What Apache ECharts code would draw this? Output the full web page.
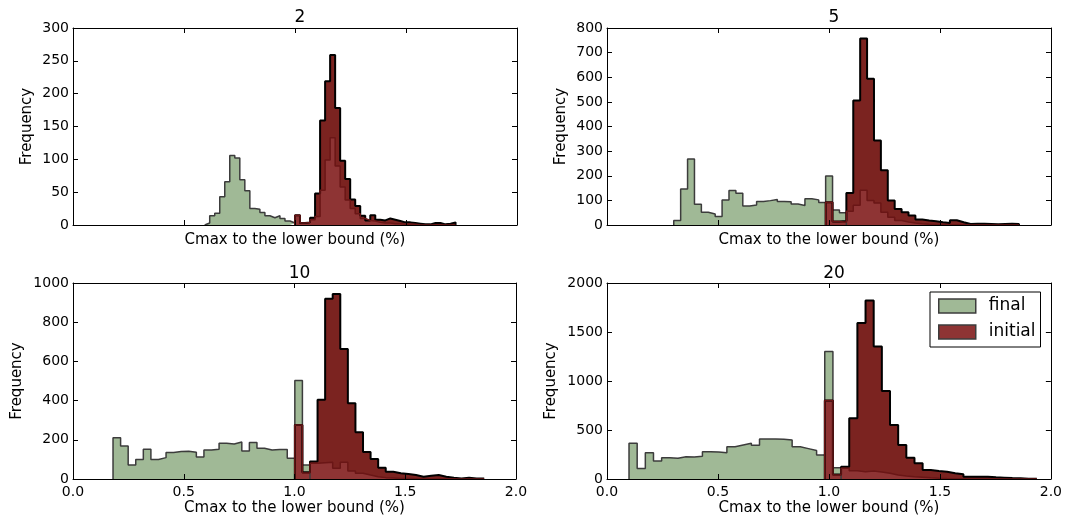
<!DOCTYPE html>
<html>
<head>
    <meta charset="UTF-8">
    <title>Cmax to the lower bound</title>
    <script src="https://cdn.jsdelivr.net/npm/echarts@6/dist/echarts.min.js"></script>
    <style>
        body { margin: 0; background: #fff; }
        #main { width: 1065px; height: 521px; }
    </style>
</head>
<body>
<div id="main"></div>
<script>
    // panel titles and y scales
    var panelTitles = ['2', '5', '10', '20'];
    var yMax = [300, 800, 1000, 2000];
    var yStep = [50, 100, 200, 500];

    // histogram bins (width + first left edge)
    var binWidth = [0.0226, 0.0311, 0.0342, 0.03675];
    var finalStart = [0.5932, 0.3007, 0.1807, 0.0992];
    var initialStart = [1.0, 0.9849, 1.0015, 0.9812];

    // counts per bin
    var final2 = [3, 14, 18, 43, 66, 106, 102, 69, 52, 25, 24, 19, 14, 11, 14, 10, 6, 3];
    var all2 = [15, 3, 4, 11, 48, 159, 219, 259, 178, 98, 70, 39, 29, 14, 7, 15, 8, 7, 10, 8, 6, 4, 4, 3, 2, 1, 1, 3, 3, 1, 2, 4];
    var initial2 = [15, 3, 4, 8, 13, 53, 99, 133, 90, 58, 38, 25, 17, 10, 7, 6, 4, 3, 3, 2, 2, 1, 1, 1, 0, 0, 0, 0, 0, 0, 0, 0];

    var final5 = [18, 146, 268, 84, 52, 45, 35, 102, 140, 129, 77, 81, 95, 99, 104, 95, 94, 85, 79, 107, 102, 91, 199, 61, 50];
    var all5 = [92, 14, 16, 130, 506, 757, 594, 343, 222, 100, 65, 52, 39, 22, 18, 15, 11, 8, 19, 11, 4, 5, 5, 4, 3, 4, 5, 4];
    var initial5 = [92, 14, 11, 56, 80, 141, 100, 89, 52, 31, 18, 12, 8, 5, 3, 2, 2, 1, 1, 1, 0, 0, 0, 0, 0, 0, 0, 0];

    var final10 = [211, 168, 72, 100, 152, 100, 109, 135, 140, 141, 136, 112, 148, 152, 182, 179, 189, 143, 186, 157, 148, 150, 150, 106, 503, 72];
    var all10 = [276, 34, 89, 404, 920, 944, 663, 387, 238, 138, 102, 58, 37, 29, 26, 20, 12, 17, 20, 12, 7, 3, 7, 3, 3];
    var initial10 = [276, 30, 80, 83, 85, 55, 85, 41, 29, 20, 12, 7, 5, 3, 2, 1, 1, 0, 0, 0, 0, 0, 0, 0, 0];

    var final20 = [365, 106, 269, 184, 218, 211, 228, 225, 232, 279, 276, 269, 330, 348, 365, 344, 409, 409, 405, 399, 330, 310, 290, 245, 1302, 116];
    var all20 = [800, 47, 126, 620, 1591, 1822, 1352, 899, 552, 347, 218, 160, 92, 82, 75, 58, 48, 24, 24, 24, 17, 14, 10, 7, 3, 3];
    var initial20 = [800, 40, 109, 85, 75, 82, 72, 58, 41, 31, 24, 18, 12, 8, 5, 3, 2, 1, 1, 0, 0, 0, 0, 0, 0, 0];

    var finals = [final2, final5, final10, final20];
    var alls = [all2, all5, all10, all20];
    var initials = [initial2, initial5, initial10, initial20];

    var GREEN = '#a0b996', DARK = '#7b2320', LIGHT = '#8e3434';
    var FONT = 'DejaVu Sans';

    // histogram outline as step points: [edge, count] ... [lastEdge, 0]
    function steps(start, width, counts) {
        var pts = [[start, 0]];
        counts.forEach(function (c, i) { pts.push([start + i * width, c]); });
        pts.push([start + counts.length * width, 0]);
        return pts;
    }

    var grids = [
        {left: 73, top: 28, width: 444, height: 197},
        {left: 607, top: 28, width: 444, height: 197},
        {left: 73, top: 283, width: 443, height: 196},
        {left: 607, top: 283, width: 444, height: 196}
    ];

    var xAxes = [], yAxes = [], series = [], titles = [];
    var tick = {show: true, inside: true, length: 5, lineStyle: {color: '#000'}};
    var line = {show: true, onZero: false, lineStyle: {color: '#000', width: 1}};

    panelTitles.forEach(function (t, i) {
        var bottomRow = i >= 2;
        xAxes.push({
            type: 'value', gridIndex: i, position: 'bottom', min: 0, max: 2, interval: 0.5, z: 10,
            axisLine: line, axisTick: tick, splitLine: {show: false},
            axisLabel: {show: bottomRow, color: '#000', fontSize: 14, fontFamily: FONT, margin: 6,
                formatter: function (v) { return v.toFixed(1); }},
            name: 'Cmax to the lower bound (%)', nameLocation: 'middle',
            nameGap: bottomRow ? 22 : 8,
            nameTextStyle: {color: '#000', fontSize: 15, fontFamily: FONT, verticalAlign: 'top'}
        });
        xAxes.push({
            type: 'value', gridIndex: i, position: 'top', min: 0, max: 2, interval: 0.5, z: 10,
            axisLine: line, axisTick: tick, axisLabel: {show: false}, splitLine: {show: false}
        });
        yAxes.push({
            type: 'value', gridIndex: i, position: 'left', min: 0, max: yMax[i], interval: yStep[i], z: 10,
            axisLine: line, axisTick: tick, splitLine: {show: false},
            axisLabel: {color: '#000', fontSize: 14, fontFamily: FONT, margin: 4,
                formatter: function (v) { return String(v); }},
            name: 'Frequency', nameLocation: 'middle', nameRotate: 90,
            nameGap: bottomRow ? 48 : 38,
            nameTextStyle: {color: '#000', fontSize: 15, fontFamily: FONT}
        });
        yAxes.push({
            type: 'value', gridIndex: i, position: 'right', min: 0, max: yMax[i], interval: yStep[i], z: 10,
            axisLine: line, axisTick: tick, axisLabel: {show: false}, splitLine: {show: false}
        });
        titles.push({
            text: t, left: grids[i].left + grids[i].width / 2, top: bottomRow ? 260 : 4, textAlign: 'center',
            textStyle: {color: '#000', fontSize: 17, fontWeight: 'normal', fontFamily: FONT}
        });

        var common = {type: 'line', step: 'end', xAxisIndex: 2 * i, yAxisIndex: 2 * i,
            symbol: 'none', showSymbol: false, animation: false, silent: true};
        series.push(Object.assign({}, common, {
            name: 'final', color: GREEN, data: steps(finalStart[i], binWidth[i], finals[i]),
            lineStyle: {color: '#3c3c3c', width: 1.5}, areaStyle: {color: GREEN, opacity: 1}
        }));
        series.push(Object.assign({}, common, {
            name: 'initial (all)', color: DARK, data: steps(initialStart[i], binWidth[i], alls[i]),
            lineStyle: {color: '#000', width: 2}, areaStyle: {color: DARK, opacity: 1}
        }));
        series.push(Object.assign({}, common, {
            name: 'initial', color: LIGHT, data: steps(initialStart[i], binWidth[i], initials[i]),
            lineStyle: {color: '#6a1616', width: 1.5}, areaStyle: {color: LIGHT, opacity: 1}
        }));
    });

    var chart = echarts.init(document.getElementById('main'));
    chart.setOption({
        animation: false,
        backgroundColor: '#fff',
        textStyle: {fontFamily: FONT},
        title: titles,
        grid: grids,
        xAxis: xAxes,
        yAxis: yAxes,
        legend: {
            left: 930, top: 292, orient: 'vertical', align: 'left',
            backgroundColor: '#fff', borderColor: '#000', borderWidth: 1,
            padding: [5, 5, 6, 8], itemWidth: 37, itemHeight: 14, itemGap: 8,
            selectedMode: false,
            textStyle: {color: '#000', fontSize: 17, fontFamily: FONT, lineHeight: 18, padding: [0, 0, 0, 8]},
            data: [
                {name: 'final', icon: 'rect', itemStyle: {color: GREEN, borderColor: '#3c3c3c', borderWidth: 1.5}},
                {name: 'initial', icon: 'rect', itemStyle: {color: LIGHT, borderColor: '#3c3c3c', borderWidth: 1.5}}
            ]
        },
        series: series
    });
</script>
</body>
</html>
